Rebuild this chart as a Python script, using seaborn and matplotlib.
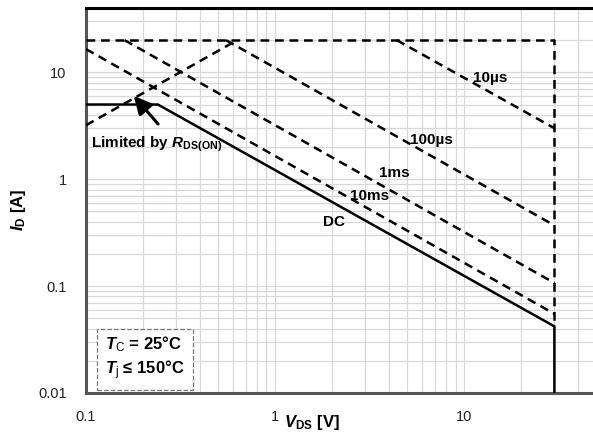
import matplotlib
matplotlib.use("Agg")
import matplotlib.pyplot as plt
import seaborn as sns
import pandas as pd
from matplotlib.ticker import FixedLocator, FixedFormatter, LogLocator, NullFormatter

# ---- data ----
v_dc = [0.1, 0.24, 30, 30]
i_dc = [5.0, 5.0, 0.042, 0.01]
v_10ms = [0.1, 30]
i_10ms = [16.5, 0.055]
v_1ms = [0.16, 30]
i_1ms = [20, 0.107]
v_100us = [0.55, 30]
i_100us = [20, 0.37]
v_10us = [4.4, 30]
i_10us = [20, 3.0]
v_limit = [0.1, 30, 30]
i_limit = [20, 20, 0.042]
v_rds = [0.1, 0.63]
i_rds = [3.2, 20]

x_ticks = [0.1, 1, 10]
x_ticklabels = ["0.1", "1", "10"]
y_ticks = [0.01, 0.1, 1, 10]
y_ticklabels = ["0.01", "0.1", "1", "10"]

curve_labels = ["10µs", "100µs", "1ms", "10ms", "DC"]
label_v = [11.2, 5.2, 3.55, 2.49, 1.8]
label_i = [8.85, 2.32, 1.14, 0.69, 0.40]

sns.set_theme(style="white")
plt.rcParams['font.family'] = ['Liberation Sans', 'DejaVu Sans']
plt.rcParams['text.color'] = 'black'
plt.rcParams['mathtext.fontset'] = 'custom'
plt.rcParams['mathtext.rm'] = 'Liberation Sans'
plt.rcParams['mathtext.it'] = 'Liberation Sans:italic'
plt.rcParams['mathtext.bf'] = 'Liberation Sans:bold'
plt.rcParams['mathtext.bfit'] = 'Liberation Sans:bold:italic'

fig = plt.figure(figsize=(5.93, 4.41), dpi=100)
ax = fig.add_axes([86 / 593, 1 - 393 / 441, 1 - 86 / 593, (393 - 8) / 441])
ax.set_xscale("log")
ax.set_yscale("log")
ax.set_xlim(0.1, 48)
ax.set_ylim(0.01, 40)

lw = 1.8
dash = (0, (3.5, 2.3))

def line(v, i, ls):
    df = pd.DataFrame({"V": v, "I": i})
    sns.lineplot(data=df, x="V", y="I", ax=ax, color="black", lw=lw,
                 linestyle=ls, sort=False, estimator=None, zorder=3)

line(v_dc, i_dc, "-")
for v, i in [(v_10ms, i_10ms), (v_1ms, i_1ms), (v_100us, i_100us),
             (v_10us, i_10us), (v_limit, i_limit), (v_rds, i_rds)]:
    line(v, i, dash)

ax.set_xlabel("")
ax.set_ylabel("")

# grid
ax.xaxis.set_major_locator(FixedLocator(x_ticks))
ax.xaxis.set_major_formatter(FixedFormatter(x_ticklabels))
ax.yaxis.set_major_locator(FixedLocator(y_ticks))
ax.yaxis.set_major_formatter(FixedFormatter(y_ticklabels))
ax.xaxis.set_minor_locator(LogLocator(base=10, subs=range(2, 10)))
ax.yaxis.set_minor_locator(LogLocator(base=10, subs=range(2, 10)))
ax.xaxis.set_minor_formatter(NullFormatter())
ax.yaxis.set_minor_formatter(NullFormatter())
ax.grid(True, which="both", color="#d8d8d8", lw=0.9, zorder=0)
ax.set_axisbelow(True)
ax.tick_params(which="both", length=0)
ax.tick_params(axis="x", pad=12, labelsize=10.5, labelcolor="#222222")
ax.tick_params(axis="y", pad=14, labelsize=10.5, labelcolor="#222222")

for s in ["left", "bottom"]:
    ax.spines[s].set_color("#555555")
    ax.spines[s].set_linewidth(2.2)
ax.spines["top"].set_color("black")
ax.spines["top"].set_linewidth(2.2)
ax.spines["right"].set_visible(False)

# curve labels
for t, v, i in zip(curve_labels, label_v, label_i):
    ax.text(v, i, t, fontsize=11, fontweight="bold", ha="left", va="center", zorder=4)

# annotation
ax.annotate("", xy=(0.175, 6.3), xytext=(0.246, 3.14),
            arrowprops=dict(arrowstyle="-|>,head_length=0.9,head_width=0.45",
                            color="black", lw=2.2), zorder=5)
ax.text(0.106, 2.1, r"Limited by $\mathbfit{R}_{\mathbf{DS(ON)}}$",
        fontsize=11, fontweight="bold", ha="left", va="center", zorder=4)

# condition box
ax.text(0.126, 0.0212, "$\\mathbfit{T}_{\\mathrm{C}}$ = 25°C\n$\\mathbfit{T}_{\\mathrm{j}}$ ≤ 150°C",
        fontsize=12, fontweight="bold", ha="left", va="center", linespacing=1.25,
        bbox=dict(boxstyle="square,pad=0.5", fc="white", ec="#777777", ls="--", lw=0.9),
        zorder=4)

# axis labels
fig.text(18 / 593, 1 - 210 / 441, r"$\mathbfit{I}_{\mathbf{D}}$ [A]", rotation=90,
         fontsize=12, fontweight="bold", ha="center", va="center")
fig.text(312 / 593, 1 - 422 / 441, r"$\mathbfit{V}_{\mathbf{DS}}$ [V]",
         fontsize=12, fontweight="bold", ha="center", va="center")

fig.savefig("out.png", dpi=100)
